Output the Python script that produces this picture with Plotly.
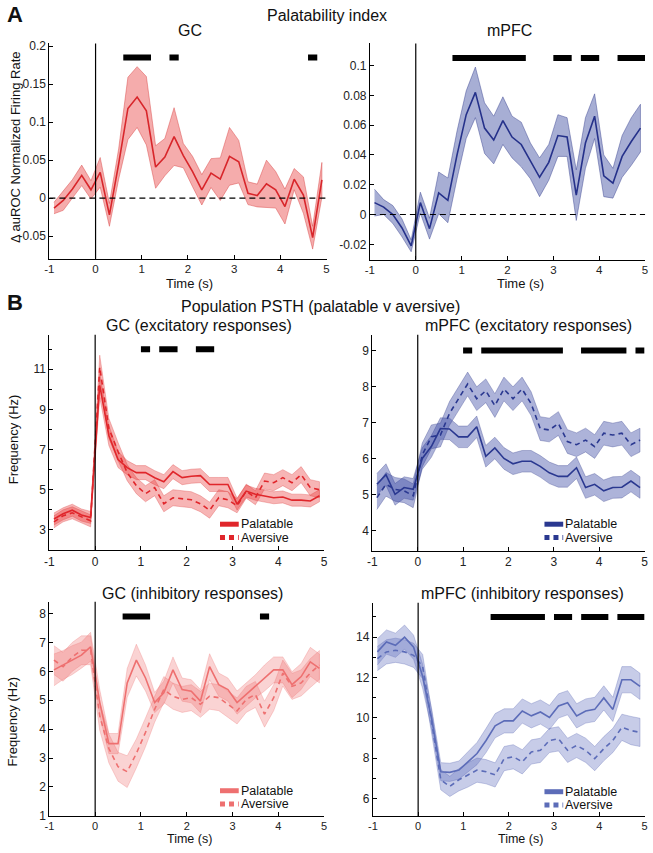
import plotly.graph_objects as go

W, H = 653, 853
FONT = "Liberation Sans, Arial, sans-serif"

# ---------------- data ----------------
TIME = [-0.9, -0.7, -0.5, -0.3, -0.1, 0.1, 0.3, 0.5, 0.7, 0.9, 1.1, 1.3, 1.5, 1.7, 1.9,
        2.1, 2.3, 2.5, 2.7, 2.9, 3.1, 3.3, 3.5, 3.7, 3.9, 4.1, 4.3, 4.5, 4.7, 4.9]
X_TICKS = [-1, 0, 1, 2, 3, 4, 5]
X_TICK_TEXT = ["-1", "0", "1", "2", "3", "4", "5"]

# A: palatability index
GC_PAL_IDX = [-0.013, -0.003, 0.012, 0.030, 0.011, 0.034, -0.022, 0.045, 0.118, 0.133,
              0.115, 0.041, 0.054, 0.081, 0.056, 0.035, 0.011, 0.033, 0.025, 0.055,
              0.048, 0.0065, 0.0035, 0.019, 0.011, -0.011, 0.025, 0.004, -0.052, 0.024]
GC_PAL_IDX_SEM = [0.0075, 0.013, 0.0125, 0.0135, 0.012, 0.0195, 0.015, 0.02, 0.041, 0.040,
                  0.045, 0.028, 0.0245, 0.038, 0.016, 0.02, 0.02, 0.019, 0.028, 0.038,
                  0.028, 0.015, 0.015, 0.031, 0.024, 0.023, 0.014, 0.024, 0.015, 0.023]
MPFC_PAL_IDX = [0.008, 0.005, 0.0, -0.009, -0.021, 0.008, -0.0095, 0.0145, 0.0095, 0.040,
                0.067, 0.082, 0.058, 0.050, 0.063, 0.052, 0.047, 0.036, 0.025, 0.035,
                0.053, 0.052, 0.013, 0.048, 0.066, 0.026, 0.021, 0.039, 0.049, 0.058]
MPFC_PAL_IDX_SEM = [0.009, 0.005, 0.006, 0.006, 0.004, 0.007, 0.007, 0.014, 0.015, 0.016,
                    0.016, 0.017, 0.017, 0.016, 0.016, 0.014, 0.015, 0.012, 0.013, 0.012,
                    0.014, 0.013, 0.017, 0.017, 0.015, 0.014, 0.010, 0.014, 0.016, 0.016]
GC_IDX_SIG = [(0.6, 1.2), (1.6, 1.8), (4.6, 4.8)]
MPFC_IDX_SIG = [(0.8, 2.4), (3.0, 3.4), (3.6, 4.0), (4.4, 5.0)]

# B: population PSTH, excitatory
GC_EXC_PAL = [3.54, 3.8, 3.98, 3.74, 3.62, 10.2, 7.7, 6.5, 6.1, 5.85, 5.85, 5.6, 5.4, 5.9, 5.6,
              5.67, 5.7, 5.26, 5.26, 5.26, 4.28, 4.93, 4.77, 4.69, 4.6, 4.64, 4.48, 4.48, 4.44, 4.7]
GC_EXC_PAL_SEM = [0.3, 0.3, 0.3, 0.3, 0.3, 0.6, 0.5, 0.4, 0.35, 0.35, 0.35, 0.35, 0.35, 0.35, 0.35,
                  0.35, 0.35, 0.35, 0.35, 0.35, 0.3, 0.3, 0.3, 0.3, 0.3, 0.3, 0.3, 0.3, 0.3, 0.3]
GC_EXC_AVE = [3.4, 3.7, 3.85, 3.65, 3.45, 11.1, 8.05, 6.9, 5.85, 5.2, 4.8, 5.1, 4.3, 4.6, 4.55,
              4.5, 4.3, 3.98, 4.6, 4.5, 4.2, 4.93, 4.6, 5.43, 5.35, 5.6, 5.35, 5.75, 5.1, 5.0]
GC_EXC_AVE_SEM = [0.3, 0.3, 0.3, 0.3, 0.3, 0.6, 0.5, 0.45, 0.4, 0.4, 0.4, 0.4, 0.4, 0.4, 0.4,
                  0.4, 0.4, 0.4, 0.4, 0.4, 0.35, 0.35, 0.35, 0.4, 0.4, 0.4, 0.4, 0.4, 0.4, 0.4]
MPFC_EXC_PAL = [5.28, 5.55, 5.0, 5.19, 5.14, 6.0, 6.33, 6.83, 6.82, 6.6, 6.6, 6.88, 6.06, 6.29, 6.0,
                5.85, 5.92, 5.92, 5.78, 5.6, 5.5, 5.5, 5.74, 5.19, 5.28, 5.1, 5.19, 5.2, 5.37, 5.19]
MPFC_EXC_PAL_SEM = [0.3] * 30
MPFC_EXC_AVE = [4.91, 5.28, 5.14, 5.1, 4.96, 6.1, 6.6, 6.65, 7.25, 7.66, 8.07, 7.66, 7.88, 7.47, 7.93,
                7.66, 7.93, 7.52, 6.83, 6.79, 6.97, 6.47, 6.38, 6.51, 6.33, 6.7, 6.65, 6.7, 6.38, 6.51]
MPFC_EXC_AVE_SEM = [0.33] * 30
GC_EXC_SIG = [(1.0, 1.2), (1.4, 1.8), (2.2, 2.6)]
MPFC_EXC_SIG = [(1.0, 1.2), (1.4, 3.2), (3.6, 4.6), (4.8, 5.0)]

# B: population PSTH, inhibitory
GC_INH_PAL = [6.05, 6.22, 6.39, 6.56, 6.85, 4.92, 3.5, 3.5, 5.6, 6.39, 5.77, 4.92, 5.26, 6.05, 5.37,
              5.31, 4.97, 6.16, 5.54, 5.37, 4.92, 5.2, 5.48, 5.77, 6.05, 6.05, 5.54, 5.82, 6.33, 6.1]
GC_INH_PAL_SEM = [0.55, 0.5, 0.5, 0.45, 0.5, 0.45, 0.35, 0.35, 0.5, 0.55, 0.45, 0.35, 0.4, 0.45, 0.4,
                  0.4, 0.4, 0.45, 0.4, 0.4, 0.4, 0.4, 0.4, 0.45, 0.45, 0.45, 0.45, 0.45, 0.5, 0.5]
GC_INH_AVE = [6.39, 6.16, 6.5, 6.73, 6.73, 4.46, 3.33, 2.7, 2.53, 3.16, 3.89, 4.69, 5.37, 5.14, 5.03,
              5.09, 4.86, 5.14, 5.09, 4.86, 4.63, 5.03, 5.2, 4.52, 5.09, 5.94, 5.48, 5.6, 5.94, 6.22]
GC_INH_AVE_SEM = [0.5, 0.5, 0.5, 0.5, 0.5, 0.5, 0.5, 0.5, 0.55, 0.5, 0.5, 0.45, 0.45, 0.45, 0.45,
                  0.45, 0.45, 0.45, 0.45, 0.45, 0.45, 0.45, 0.45, 0.45, 0.45, 0.45, 0.45, 0.45, 0.5, 0.5]
MPFC_INH_PAL = [13.27, 13.76, 13.6, 14.0, 13.5, 12.05, 9.93, 7.33, 7.3, 7.41, 7.82, 8.23, 8.88, 9.61, 9.85,
                9.85, 10.34, 10.1, 10.29, 10.02, 10.59, 10.75, 10.1, 10.34, 10.42, 10.99, 10.42, 11.89, 11.89, 11.56]
MPFC_INH_PAL_SEM = [0.65, 0.6, 0.6, 0.6, 0.6, 0.6, 0.5, 0.45, 0.45, 0.45, 0.5, 0.55, 0.6, 0.6, 0.6,
                    0.6, 0.6, 0.6, 0.6, 0.6, 0.6, 0.6, 0.6, 0.6, 0.6, 0.6, 0.6, 0.65, 0.65, 0.65]
MPFC_INH_AVE = [12.94, 13.27, 13.35, 13.27, 13.1, 12.54, 9.77, 6.93, 6.6, 6.93, 7.17, 7.41, 7.33, 7.17, 7.98,
                8.07, 7.82, 8.31, 8.39, 8.88, 8.96, 8.39, 8.63, 8.39, 7.98, 8.47, 8.88, 9.53, 9.37, 9.28]
MPFC_INH_AVE_SEM = [0.6, 0.6, 0.6, 0.6, 0.6, 0.6, 0.55, 0.5, 0.5, 0.55, 0.6, 0.6, 0.6, 0.6, 0.6,
                    0.6, 0.6, 0.6, 0.6, 0.6, 0.6, 0.6, 0.6, 0.6, 0.6, 0.6, 0.6, 0.65, 0.7, 0.7]
GC_INH_SIG = [(0.6, 1.2), (3.6, 3.8)]
MPFC_INH_SIG = [(1.6, 2.8), (3.0, 3.4), (3.6, 4.2), (4.4, 5.0)]

SERIES_NAMES = ["Palatable", "Aversive"]

# ---------------- layout helpers ----------------
def xd(a, b):
    return [a / W, b / W]

def yd(top, bottom):
    return [1 - bottom / H, 1 - top / H]

fig = go.Figure()

panels = [
    dict(n=1, x=(45, 326), y=(40, 258), yr=(-0.0796, 0.2035), xfs=11.5,
         tv=[-0.05, 0, 0.05, 0.1, 0.15, 0.2], tt=["-0.05", "0", "0.05", "0.1", "0.15", "0.2"], minor=None),
    dict(n=2, x=(370, 649), y=(40, 259), yr=(-0.0303, 0.1148), xfs=11.5,
         tv=[-0.02, 0, 0.02, 0.04, 0.06, 0.08, 0.1], tt=["-0.02", "0", "0.02", "0.04", "0.06", "0.08", "0.1"],
         minor=None),
    dict(n=3, x=(45, 323.5), y=(335, 553.5), yr=(1.98, 12.72), xfs=12,
         tv=[3, 5, 7, 9, 11], tt=["3", "5", "7", "9", "11"], minor=[2, 4, 6, 8, 10, 12]),
    dict(n=4, x=(372.5, 648.5), y=(335, 554), yr=(3.43, 9.44), xfs=12,
         tv=[4, 5, 6, 7, 8, 9], tt=["4", "5", "6", "7", "8", "9"], minor=None),
    dict(n=5, x=(45, 323.5), y=(605.5, 822.5), yr=(1.0, 8.41), xfs=11,
         tv=[1, 2, 3, 4, 5, 6, 7, 8], tt=["1", "2", "3", "4", "5", "6", "7", "8"], minor=None),
    dict(n=6, x=(373, 648.5), y=(606.5, 822.5), yr=(5.14, 15.71), xfs=11,
         tv=[6, 8, 10, 12, 14], tt=["6", "8", "10", "12", "14"], minor=[7, 9, 11, 13, 15]),
]

layout_axes = {}
for p in panels:
    n = p["n"]
    sx = "" if n == 1 else str(n)
    xa = dict(domain=xd(*p["x"]), range=[-1, 5], anchor="y" + sx, showgrid=False, zeroline=False,
              showline=True, linecolor="black", linewidth=1, ticks="inside", ticklen=4, tickcolor="black",
              tickvals=X_TICKS, ticktext=X_TICK_TEXT, tickfont=dict(size=p["xfs"], color="#222"),
              fixedrange=True)
    ya = dict(domain=yd(*p["y"]), range=list(p["yr"]), anchor="x" + sx, showgrid=False, zeroline=False,
              showline=True, linecolor="black", linewidth=1, ticks="inside", ticklen=4, tickcolor="black",
              tickvals=p["tv"], ticktext=p["tt"], tickfont=dict(size=12, color="#222"), fixedrange=True)
    if p["minor"]:
        ya["minor"] = dict(tickvals=p["minor"], ticks="inside", ticklen=3, tickcolor="black")
    layout_axes["xaxis" + sx] = xa
    layout_axes["yaxis" + sx] = ya


def ax(n):
    return ("x" if n == 1 else "x%d" % n), ("y" if n == 1 else "y%d" % n)


def add_band(n, mean, sem, fill, edge):
    xr, yr_ = ax(n)
    upper = [m + s for m, s in zip(mean, sem)]
    lower = [m - s for m, s in zip(mean, sem)]
    fig.add_trace(go.Scatter(x=TIME + TIME[::-1], y=upper + lower[::-1], fill="toself",
                             fillcolor=fill, line=dict(color=edge, width=0.8), mode="lines",
                             hoverinfo="skip", showlegend=False, xaxis=xr, yaxis=yr_))


def add_line(n, mean, color, name, dash="solid", width=1.6):
    xr, yr_ = ax(n)
    fig.add_trace(go.Scatter(x=TIME, y=mean, mode="lines", name=name,
                             line=dict(color=color, width=width, dash=dash),
                             showlegend=False, xaxis=xr, yaxis=yr_))


def add_sig(n, spans, level):
    xr, yr_ = ax(n)
    xs, ys = [], []
    for a, b in spans:
        xs += [a, b, None]
        ys += [level, level, None]
    fig.add_trace(go.Scatter(x=xs, y=ys, mode="lines", line=dict(color="black", width=6),
                             showlegend=False, hoverinfo="skip", xaxis=xr, yaxis=yr_))


# manual legend (short thick samples + labels), positioned in pixels
shapes = []
annotations = []

def add_legend(x_sample, y_first, color, dy=13.5):
    for i, (name, dash) in enumerate(zip(SERIES_NAMES, ["solid", "5px,4px"])):
        yy = 1 - (y_first + i * dy) / H
        shapes.append(dict(type="line", xref="paper", yref="paper",
                           x0=x_sample / W, x1=(x_sample + 19) / W, y0=yy, y1=yy,
                           line=dict(color=color, width=5, dash=dash)))
        annotations.append(dict(text=name, x=(x_sample + 20) / W, y=yy, xref="paper", yref="paper",
                                showarrow=False, xanchor="left", yanchor="middle", borderpad=0,
                                font=dict(family=FONT, size=12.5, color="#111")))


# Panel A GC
add_band(1, GC_PAL_IDX, GC_PAL_IDX_SEM, "rgba(232,72,72,0.45)", "rgba(215,60,60,0.55)")
add_line(1, GC_PAL_IDX, "#d8262b", "GC")
add_sig(1, GC_IDX_SIG, 0.185)
# Panel A mPFC
add_band(2, MPFC_PAL_IDX, MPFC_PAL_IDX_SEM, "rgba(60,75,160,0.45)", "rgba(50,60,140,0.55)")
add_line(2, MPFC_PAL_IDX, "#25318a", "mPFC")
add_sig(2, MPFC_IDX_SIG, 0.105)
# Panel B GC excitatory
add_band(3, GC_EXC_PAL, GC_EXC_PAL_SEM, "rgba(235,60,60,0.38)", "rgba(220,60,60,0.4)")
add_band(3, GC_EXC_AVE, GC_EXC_AVE_SEM, "rgba(235,60,60,0.38)", "rgba(220,60,60,0.4)")
add_line(3, GC_EXC_PAL, "#e0262b", SERIES_NAMES[0])
add_line(3, GC_EXC_AVE, "#e0262b", SERIES_NAMES[1], dash="5px,4px")
add_sig(3, GC_EXC_SIG, 12)
add_legend(218, 527, "#e0262b")
# Panel B mPFC excitatory
add_band(4, MPFC_EXC_PAL, MPFC_EXC_PAL_SEM, "rgba(60,75,165,0.42)", "rgba(50,60,140,0.4)")
add_band(4, MPFC_EXC_AVE, MPFC_EXC_AVE_SEM, "rgba(60,75,165,0.42)", "rgba(50,60,140,0.4)")
add_line(4, MPFC_EXC_PAL, "#2a3890", SERIES_NAMES[0])
add_line(4, MPFC_EXC_AVE, "#2a3890", SERIES_NAMES[1], dash="5px,4px")
add_sig(4, MPFC_EXC_SIG, 9)
add_legend(547, 527, "#2a3890")
# Panel B GC inhibitory
add_band(5, GC_INH_PAL, GC_INH_PAL_SEM, "rgba(240,110,110,0.3)", "rgba(235,110,110,0.35)")
add_band(5, GC_INH_AVE, GC_INH_AVE_SEM, "rgba(240,110,110,0.3)", "rgba(235,110,110,0.35)")
add_line(5, GC_INH_PAL, "#ee7070", SERIES_NAMES[0])
add_line(5, GC_INH_AVE, "#ee7070", SERIES_NAMES[1], dash="5px,4px")
add_sig(5, GC_INH_SIG, 7.9)
add_legend(218, 797, "#ee7070")
# Panel B mPFC inhibitory
add_band(6, MPFC_INH_PAL, MPFC_INH_PAL_SEM, "rgba(95,110,190,0.35)", "rgba(90,105,180,0.4)")
add_band(6, MPFC_INH_AVE, MPFC_INH_AVE_SEM, "rgba(95,110,190,0.35)", "rgba(90,105,180,0.4)")
add_line(6, MPFC_INH_PAL, "#5c6cb8", SERIES_NAMES[0])
add_line(6, MPFC_INH_AVE, "#5c6cb8", SERIES_NAMES[1], dash="5px,4px")
add_sig(6, MPFC_INH_SIG, 15)
add_legend(547, 798, "#5c6cb8")

# reference lines: stimulus onset at t=0 and zero line in panel A
for p in panels:
    xr, yr_ = ax(p["n"])
    shapes.append(dict(type="line", xref=xr, yref=yr_ + " domain", x0=0, x1=0, y0=0, y1=1,
                       line=dict(color="black", width=1.2)))
for n in (1, 2):
    xr, yr_ = ax(n)
    shapes.append(dict(type="line", xref=xr + " domain", yref=yr_, x0=0, x1=1, y0=0, y1=0,
                       line=dict(color="black", width=1.2, dash="6px,4px")))

# text annotations
def ann(text, x, y, size, bold=False, angle=0, anchor="center"):
    return dict(text=("<b>%s</b>" % text) if bold else text, x=x / W, y=1 - y / H, xref="paper", yref="paper",
                showarrow=False, textangle=angle, xanchor=anchor, yanchor="middle", borderpad=0,
                font=dict(family=FONT, size=size, color="#111"))

annotations += [
    ann("A", 1, 11, 22, bold=True, anchor="left"),
    ann("Palatability index", 326, 12, 16),
    ann("GC", 188, 27, 16),
    ann("mPFC", 512, 27, 16),
    ann("Δ auROC Normalized Firing Rate", 10, 145, 13, angle=-90),
    ann("Time (s)", 187, 283, 13),
    ann("Time (s)", 523, 283, 13),
    ann("B", 1, 302, 22, bold=True, anchor="left"),
    ann("Population PSTH (palatable v aversive)", 320, 306, 16),
    ann("GC (excitatory responses)", 197, 326, 16),
    ann("mPFC (excitatory responses)", 531, 326, 16),
    ann("Frequency (Hz)", 8, 441, 13, angle=-90),
    ann("GC (inhibitory responses)", 190, 597, 16),
    ann("mPFC (inhibitory responses)", 525, 597, 16),
    ann("Frequency (Hz)", 8, 727, 13, angle=-90),
    ann("Time (s)", 187, 845.5, 12.5),
    ann("Time (s)", 523, 845.5, 12.5),
]

fig.update_layout(
    width=W, height=H, margin=dict(l=0, r=0, t=0, b=0),
    paper_bgcolor="white", plot_bgcolor="white",
    font=dict(family=FONT, size=12, color="#222"),
    shapes=shapes, annotations=annotations,
    showlegend=False,
    **layout_axes,
)

fig.write_html("out.html", config={"displayModeBar": False},
               post_script="document.body.style.margin='0px';document.body.style.overflow='hidden';")
